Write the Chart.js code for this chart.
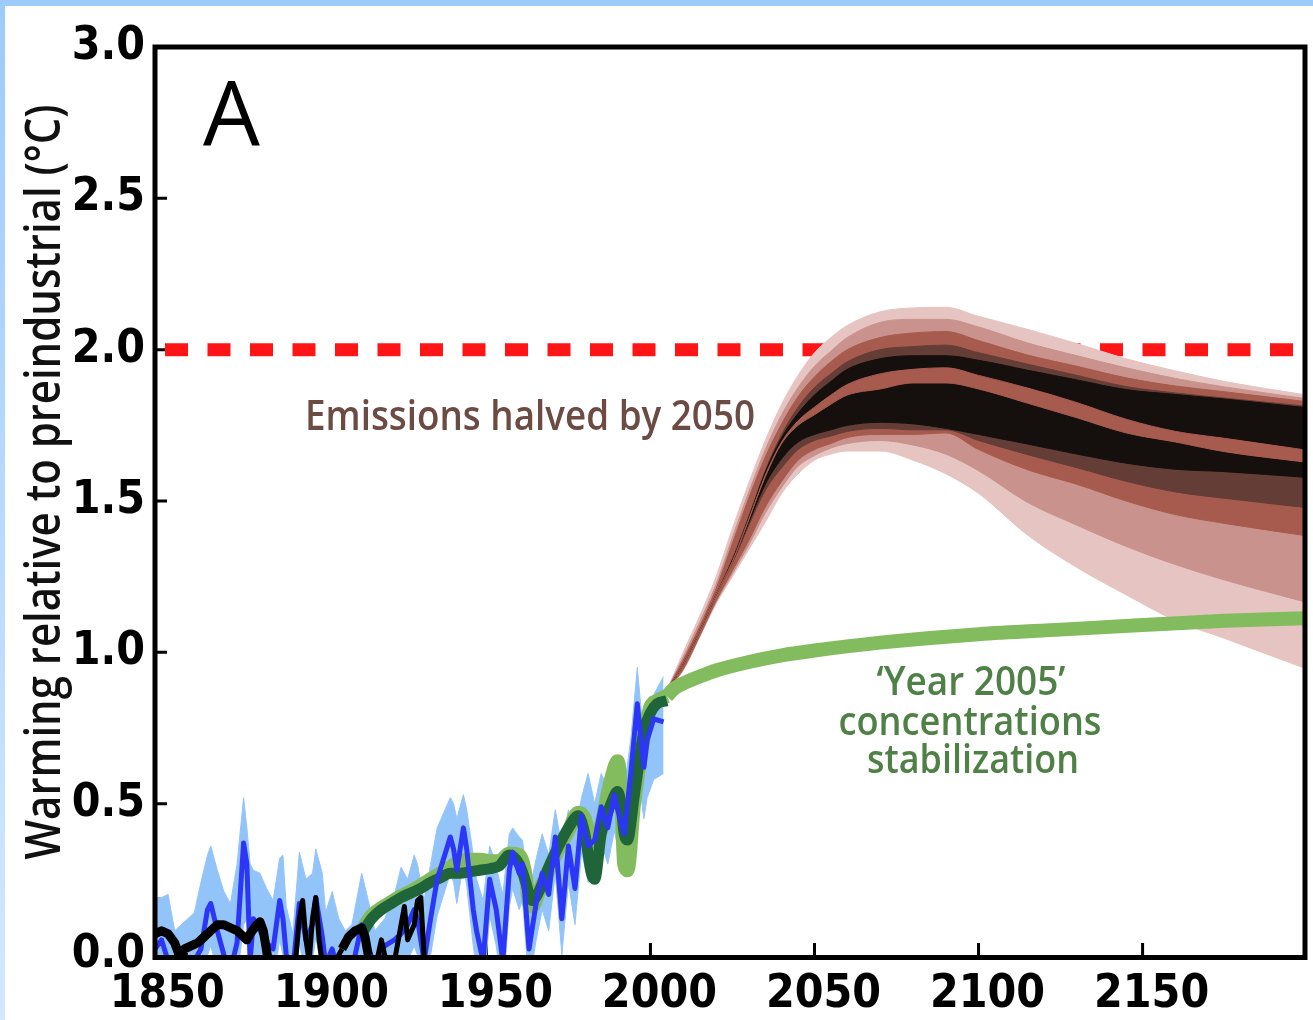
<!DOCTYPE html>
<html>
<head>
<meta charset="utf-8">
<script src="https://cdn.jsdelivr.net/npm/chart.js@4.4.1/dist/chart.umd.min.js"></script>
<style>
  html, body { margin: 0; padding: 0; background: #fff; }
  #wrap { position: relative; width: 1313px; height: 1020px; overflow: hidden; }
  #wrap canvas { position: absolute; left: 0; top: 0; }
  #topbar { position: absolute; left: 0; top: 0; width: 1313px; height: 6px; background: #9dcbfc; }
  #leftbar { position: absolute; left: 0; top: 0; width: 5px; height: 1020px; background: linear-gradient(#9dcbfc, #d3e7ff); }
</style>
</head>
<body>
<div id="wrap">
  <canvas id="myChart" width="1313" height="1020"></canvas>
  <div id="topbar"></div>
  <div id="leftbar"></div>
</div>
<script>
// ---- data ----

// observed annual record (blue) with its uncertainty band (light blue)
const obsYears = [1849,1851,1853,1855,1857,1859,1861,1863,1865,1866,
  1868,1870,1872,1874,1876,1877,1878,1879,1881,1883,
  1885,1887,1888,1889,1891,1893,1895,1897,1898,1900,
  1901,1903,1905,1907,1909,1912,1914,1916,1919,1922,
  1924,1926,1928,1929,1931,1933,1935,1937,1939,1940,
  1941,1943,1944,1946,1947,1949,1951,1952,1953,1955,
  1957,1958,1960,1961,1963,1965,1967,1969,1971,1973,
  1975,1977,1979,1981,1983,1985,1987,1989,1990,1992,
  1994,1996,1998,1999,2001,2004];
const obsMean = [0.02,0.05,-0.02,-0.08,-0.05,-0.10,-0.02,0.02,0.15,0.17,
  0.08,0.00,-0.05,0.04,0.37,0.30,-0.02,0.12,0.08,0.04,
  0.02,0.18,0.12,0.00,-0.05,0.17,0.05,0.10,0.19,0.06,
  -0.03,0.02,-0.06,-0.10,-0.05,0.10,0.02,-0.03,0.03,0.05,
  0.07,0.10,0.15,0.12,-0.02,0.12,0.25,0.32,0.39,0.35,
  0.28,0.42,0.35,0.15,0.08,-0.02,0.25,0.20,0.15,-0.02,
  0.28,0.34,0.27,0.30,0.02,0.16,0.27,0.20,0.39,0.12,
  0.36,0.22,0.46,0.36,0.38,0.49,0.42,0.53,0.48,0.40,
  0.60,0.83,0.62,0.71,0.78,0.77];
const obsHigh = [0.19,0.19,0.20,0.08,0.10,0.12,0.14,0.24,0.33,0.36,
  0.28,0.21,0.17,0.30,0.52,0.42,0.30,0.28,0.27,0.22,
  0.18,0.32,0.33,0.16,0.07,0.34,0.25,0.27,0.35,0.27,
  0.14,0.21,0.12,0.08,0.10,0.27,0.18,0.08,0.12,0.20,
  0.29,0.25,0.33,0.30,0.18,0.30,0.42,0.47,0.52,0.50,
  0.45,0.53,0.48,0.33,0.25,0.18,0.36,0.33,0.29,0.20,
  0.40,0.42,0.39,0.38,0.20,0.31,0.40,0.33,0.48,0.36,
  0.48,0.40,0.52,0.60,0.50,0.60,0.55,0.66,0.60,0.55,
  0.71,0.95,0.71,0.80,0.86,0.92];
const obsLow = [-0.10,-0.06,-0.12,-0.20,-0.17,-0.22,-0.14,-0.10,0.00,0.03,
  -0.05,-0.12,-0.17,-0.08,0.10,0.12,-0.14,0.00,-0.04,-0.08,
  -0.10,0.05,0.00,-0.12,-0.17,0.04,-0.07,-0.02,0.06,-0.06,
  -0.15,-0.10,-0.18,-0.22,-0.17,-0.02,-0.10,-0.15,-0.09,-0.07,
  -0.05,-0.02,0.03,0.00,-0.14,0.00,0.13,0.20,0.27,0.24,
  0.17,0.30,0.23,0.03,-0.04,-0.14,0.13,0.08,0.03,-0.14,
  0.16,0.22,0.15,0.18,-0.10,0.04,0.15,0.08,0.27,0.00,
  0.24,0.10,0.34,0.24,0.26,0.37,0.30,0.41,0.36,0.28,
  0.48,0.62,0.45,0.52,0.58,0.60];

// early record (black)
const blackYears = [1849,1851,1853,1855,1856,1857,1858,1860,1862,1864,
  1866,1868,1870,1872,1874,1876,1877,1878,1880,1881,
  1882,1884,1886,1888,1890,1892,1893,1894,1895,1896,
  1897,1898,1899,1900,1902,1904,1906,1908,1910,1912,
  1913,1914,1916,1918,1919,1920,1922,1924,1925,1926,
  1928,1929,1930,1931,1932];
const blackObs = [0.07,0.08,0.07,0.04,0.01,-0.02,0.02,0.03,0.04,0.06,
  0.08,0.10,0.10,0.09,0.08,0.06,0.05,0.07,0.10,0.11,
  0.08,-0.05,-0.08,-0.05,-0.10,0.00,0.12,0.18,0.05,-0.02,
  0.12,0.19,0.05,-0.03,-0.05,-0.02,0.02,0.06,0.08,0.09,
  0.06,0.00,-0.05,0.05,0.00,-0.05,-0.02,0.10,0.16,0.05,
  0.10,0.18,0.19,0.00,-0.05];

// model historical run (light and dark green)
const histYears = [1912,1915,1918,1921,1924,1927,1930,1933,1936,1939,
  1942,1945,1948,1951,1954,1957,1960,1962,1963,1964,
  1966,1969,1972,1975,1978,1980,1982,1983,1985,1988,
  1990,1991,1992,1993,1995,1998,2000,2002,2005];
const histLight = [0.08,0.13,0.155,0.175,0.195,0.21,0.23,0.25,0.27,0.29,
  0.31,0.315,0.315,0.31,0.31,0.335,0.33,0.26,0.17,0.16,
  0.21,0.28,0.35,0.41,0.47,0.45,0.36,0.34,0.43,0.58,
  0.64,0.55,0.30,0.28,0.50,0.72,0.82,0.84,0.855];
const histDark = [0.07,0.12,0.15,0.17,0.19,0.205,0.22,0.24,0.255,0.27,
  0.27,0.275,0.28,0.285,0.295,0.33,0.30,0.24,0.20,0.18,
  0.21,0.29,0.36,0.42,0.46,0.40,0.27,0.25,0.40,0.50,
  0.54,0.50,0.40,0.38,0.52,0.74,0.80,0.83,0.84];

// 'Year 2005' concentrations stabilization
const stabYears = [2005,2007,2010,2015,2020,2030,2040,2050,2070,2100,2125,2150,2175,2200];
const stabValues = [0.855,0.878,0.897,0.92,0.94,0.968,0.99,1.006,1.032,1.06,1.075,1.09,1.104,1.113];

// emissions halved by 2050: band edges, outer to inner
const fanYears = [2005,2010,2015,2020,2025,2030,2035,2040,2045,2050,2055,2060,2070,2080,2090,2100,2115,2130,2145,2160,2175,2200];
const lightTop  = [0.875,1.00,1.12,1.25,1.41,1.56,1.70,1.82,1.915,1.99,2.04,2.08,2.125,2.138,2.14,2.11,2.067,2.02,1.97,1.93,1.895,1.85];
const mediumTop = [0.875,0.985,1.10,1.225,1.38,1.53,1.67,1.785,1.875,1.945,1.995,2.04,2.09,2.10,2.10,2.075,2.022,1.98,1.94,1.905,1.877,1.838];
const redTop    = [0.875,0.975,1.085,1.21,1.36,1.51,1.645,1.755,1.845,1.91,1.96,2.0,2.04,2.055,2.06,2.03,1.982,1.945,1.907,1.88,1.861,1.828];
const darkTop   = [0.875,0.96,1.07,1.19,1.31,1.45,1.60,1.72,1.81,1.875,1.92,1.96,2.0,2.01,2.015,1.99,1.952,1.915,1.878,1.857,1.84,1.813];
const blackTop  = [0.875,0.96,1.07,1.19,1.305,1.445,1.595,1.71,1.79,1.85,1.895,1.935,1.97,1.98,1.98,1.965,1.932,1.90,1.868,1.852,1.837,1.808];
const stripeTop = [0.875,0.96,1.07,1.19,1.30,1.44,1.585,1.695,1.765,1.81,1.85,1.885,1.92,1.935,1.94,1.915,1.873,1.825,1.77,1.73,1.707,1.668];
const stripeLow = [0.875,0.96,1.07,1.19,1.30,1.44,1.58,1.69,1.75,1.785,1.82,1.85,1.87,1.89,1.89,1.87,1.823,1.775,1.725,1.695,1.663,1.628];
const blackLow  = [0.875,0.96,1.07,1.19,1.30,1.43,1.555,1.64,1.695,1.72,1.735,1.75,1.76,1.755,1.74,1.72,1.688,1.655,1.625,1.605,1.597,1.578];
const darkLow   = [0.875,0.96,1.07,1.19,1.295,1.42,1.535,1.61,1.67,1.70,1.715,1.73,1.74,1.735,1.735,1.70,1.653,1.61,1.565,1.53,1.509,1.478];
const redLow    = [0.875,0.945,1.055,1.17,1.27,1.37,1.48,1.565,1.635,1.67,1.69,1.71,1.72,1.72,1.725,1.67,1.603,1.555,1.50,1.455,1.426,1.385];
const mediumLow = [0.875,0.942,1.052,1.165,1.26,1.355,1.46,1.545,1.615,1.65,1.675,1.69,1.70,1.685,1.655,1.60,1.495,1.42,1.35,1.29,1.239,1.165];
const lightLow  = [0.875,0.94,1.05,1.16,1.25,1.34,1.43,1.525,1.59,1.635,1.655,1.665,1.665,1.635,1.59,1.525,1.387,1.28,1.19,1.105,1.046,0.945];

const targetLevel = 2.0;
const xTicks = [1850, 1900, 1950, 2000, 2050, 2100, 2150];
const yTicks = [0, 0.5, 1, 1.5, 2, 2.5, 3];

// ---- helpers ----
const pts = (xs, ys) => xs.map((x, i) => ({ x: x, y: ys[i] }));

function line(xs, ys, color, width, order, extra) {
  return Object.assign({
    data: pts(xs, ys),
    borderColor: color,
    borderWidth: width,
    pointRadius: 0,
    fill: false,
    tension: 0,
    order: order
  }, extra || {});
}

// two datasets: upper edge, then lower edge filled up to it
function band(xs, hi, lo, color, order, smooth) {
  const base = {
    borderColor: color,
    borderWidth: 1,
    pointRadius: 0,
    order: order,
    cubicInterpolationMode: smooth ? 'monotone' : 'default',
    tension: 0
  };
  return [
    Object.assign({ data: pts(xs, hi), fill: false }, base),
    Object.assign({ data: pts(xs, lo), fill: '-1', backgroundColor: color }, base)
  ];
}

const datasets = [
  line([1849, 2199.5], [targetLevel, targetLevel], '#ff1515', 13, 20,
    { borderDash: [23, 19.5], borderDashOffset: 32.5, borderCapStyle: 'butt' }),
  ...band(obsYears, obsHigh, obsLow, '#92c4fa', 15, false),
  ...band(fanYears, lightTop, lightLow, '#e5c4c1', 14, true),
  ...band(fanYears, mediumTop, mediumLow, '#c9928c', 13, true),
  ...band(fanYears, redTop, redLow, '#a75b4e', 12, true),
  ...band(fanYears, darkTop, darkLow, '#643d36', 11, true),
  ...band(fanYears, blackTop, blackLow, '#15100d', 10, true),
  ...band(fanYears, stripeTop, stripeLow, '#a75b4e', 9, true),
  line(stabYears, stabValues, '#83bc5f', 14, 8, { cubicInterpolationMode: 'monotone' }),
  line(histYears, histLight, '#83bc5f', 14, 7, { cubicInterpolationMode: 'monotone' }),
  line(histYears, histDark, '#1f6539', 11, 6, { cubicInterpolationMode: 'monotone' }),
  line(obsYears, obsMean, '#2b36f7', 5, 5, { borderJoinStyle: 'round' }),
  // early part of the black record is drawn heavier, as in the figure
  line(blackYears, blackObs, '#000000', 6, 4, {
    borderJoinStyle: 'round',
    segment: { borderWidth: c => (c.p0.parsed.x < 1883 || (c.p0.parsed.x > 1905 && c.p0.parsed.x < 1914)) ? 9 : 5 }
  })
];

const tickFont = { family: "'Liberation Sans Narrow', 'DejaVu Sans Condensed', sans-serif", size: 46, weight: 'bold' };

// inward ticks, the box, and the annotations
const decor = {
  id: 'decor',
  beforeDatasetsDraw(chart) {
    const { ctx, chartArea: a, scales } = chart;
    ctx.save();
    ctx.strokeStyle = '#000';
    ctx.lineWidth = 3;
    ctx.beginPath();
    yTicks.slice(1, -1).forEach(v => {
      const py = scales.y.getPixelForValue(v);
      ctx.moveTo(a.left, py);
      ctx.lineTo(a.left + 12, py);
    });
    xTicks.forEach(v => {
      const px = scales.x.getPixelForValue(v);
      ctx.moveTo(px, a.bottom);
      ctx.lineTo(px, a.bottom - 12);
    });
    ctx.stroke();
    ctx.restore();
  },
  afterDatasetsDraw(chart) {
    const { ctx, chartArea: a } = chart;
    ctx.save();
    ctx.strokeStyle = '#000';
    ctx.lineWidth = 5;
    ctx.strokeRect(a.left, a.top, a.right - a.left, a.bottom + 2.5 - a.top);

    ctx.fillStyle = '#000';
    ctx.textAlign = 'left';
    ctx.textBaseline = 'alphabetic';
    ctx.font = '400 90px "Open Sans"';
    ctx.fillText('A', 203, 145);

    ctx.textAlign = 'center';
    ctx.fillStyle = '#6b4b43';
    ctx.font = '600 42px "Open Sans"';
    ctx.fillText('Emissions halved by 2050', 530, 430, 450);

    ctx.fillStyle = '#4f8046';
    ctx.font = '600 40px "Open Sans"';
    ctx.fillText('\u2018Year 2005\u2019', 971, 695, 189);
    ctx.fillText('concentrations', 970, 735, 263);
    ctx.fillText('stabilization', 973, 773, 212);

    ctx.fillStyle = '#111';
    ctx.font = '600 48px "Open Sans"';
    ctx.translate(60, 482);
    ctx.rotate(-Math.PI / 2);
    ctx.fillText('Warming relative to preindustrial (\u00B0C)', 0, 0, 755);
    ctx.restore();
  }
};

const ctx = document.getElementById('myChart').getContext('2d');
new Chart(ctx, {
  type: 'line',
  data: { datasets: datasets },
  options: {
    responsive: false,
    animation: false,
    devicePixelRatio: 1,
    layout: { padding: { left: 0, top: 47, right: 8, bottom: 0 } },
    plugins: { legend: { display: false }, tooltip: { enabled: false } },
    scales: {
      x: {
        type: 'linear',
        min: 1849,
        max: 2199.5,
        grid: { display: false, drawTicks: false },
        border: { display: false },
        afterBuildTicks: s => { s.ticks = xTicks.map(v => ({ value: v })); },
        afterFit: s => { s.height = 65; },
        ticks: {
          font: tickFont, color: '#000', padding: 12, labelOffset: 9,
          maxRotation: 0, autoSkip: false,
          callback: v => String(v)
        }
      },
      y: {
        min: 0,
        max: 3,
        grid: { display: false, drawTicks: false },
        border: { display: false },
        afterBuildTicks: s => { s.ticks = yTicks.map(v => ({ value: v })); },
        afterFit: s => { s.width = 155; },
        ticks: {
          font: tickFont, color: '#000', padding: 10,
          callback: v => v.toFixed(1)
        }
      }
    }
  },
  plugins: [decor]
});
</script>
</body>
</html>
